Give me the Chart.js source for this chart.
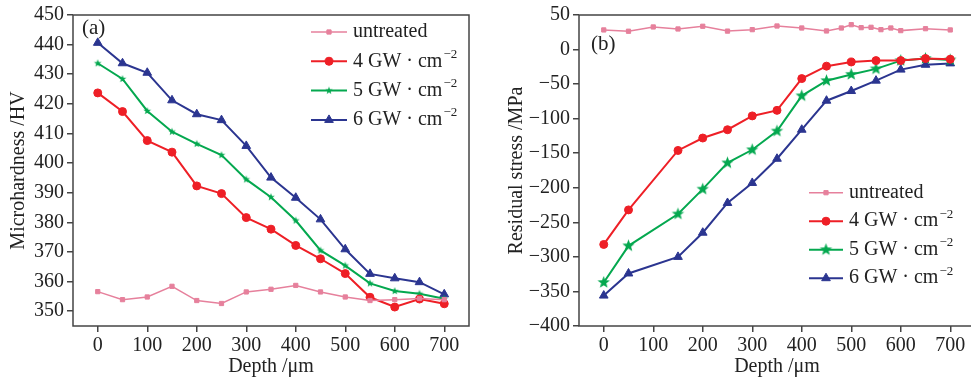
<!DOCTYPE html>
<html>
<head>
<meta charset="utf-8">
<script src="https://cdn.jsdelivr.net/npm/chart.js@4.4.1/dist/chart.umd.min.js"></script>
<style>
  body { margin: 0; background: #fff; overflow: hidden; width: 971px; height: 383px; position: relative; }
  #hardness { position: absolute; left: 0; top: 0; }
  #stress { position: absolute; left: 490px; top: 0; }
</style>
</head>
<body>
<canvas id="hardness" width="485" height="383"></canvas>
<canvas id="stress" width="500" height="383"></canvas>
<script>
// --- data ---
const seriesNames = ['untreated', '4 GW · cm⁻²', '5 GW · cm⁻²', '6 GW · cm⁻²'];
const depthTicks = [0, 100, 200, 300, 400, 500, 600, 700];

// (a) microhardness
const depthHV = [0, 50, 100, 150, 200, 250, 300, 350, 400, 450, 500, 550, 600, 650, 700];
const hvUntreated = [356.6, 353.9, 354.8, 358.4, 353.6, 352.6, 356.5, 357.4, 358.7, 356.5, 354.8, 353.6, 353.9, 354.3, 353.9];
const hv4GW = [423.7, 417.4, 407.6, 403.7, 392.3, 389.7, 381.6, 377.7, 372.2, 367.7, 362.7, 354.7, 351.4, 354.1, 352.5];
const hv5GW = [433.7, 428.4, 417.6, 410.6, 406.5, 402.7, 394.5, 388.5, 380.6, 370.5, 365.4, 359.4, 356.8, 355.9, 354.2];
const hv6GW = [440.6, 433.7, 430.5, 421.2, 416.5, 414.5, 405.8, 395.1, 388.3, 381.0, 370.9, 362.6, 361.1, 359.8, 355.7];
const hvTicks = [350, 360, 370, 380, 390, 400, 410, 420, 430, 440, 450];

// (b) residual stress
const depthUntreated = [0, 50, 100, 150, 200, 250, 300, 350, 400, 450, 480, 500, 520, 540, 560, 580, 600, 650, 700];
const stressUntreated = [28.4, 26.5, 32.7, 29.8, 33.7, 26.7, 28.8, 34.1, 31.2, 26.9, 31.2, 36, 31.7, 32.2, 28.8, 31.2, 27.4, 30.2, 28.4];
const depthStress = [0, 50, 150, 200, 250, 300, 350, 400, 450, 500, 550, 600, 650, 700];
const stress4GW = [-282, -232, -146, -128, -116, -96, -88, -42, -24, -18, -16, -16, -13, -14];
const stress5GW = [-337, -284, -238, -202, -164, -145, -118, -67, -45, -36, -28, -16, -13, -15];
const stress6GW = [-356, -324, -300, -265, -222, -193, -158, -116, -74, -60, -45, -29, -22, -20];
const stressTicks = [-400, -350, -300, -250, -200, -150, -100, -50, 0, 50];

const colors = ['#e6809c', '#ee1f26', '#04a84f', '#2b3590'];
const FONT = "'Liberation Serif', 'DejaVu Serif', serif";
const INK = '#222';
const AXIS = '#444';

function starImage(r, color) {
  const s = Math.ceil(r * 2 + 2);
  const c = document.createElement('canvas');
  c.width = c.height = s;
  const g = c.getContext('2d');
  g.fillStyle = color;
  g.beginPath();
  for (let i = 0; i < 10; i++) {
    const a = -Math.PI / 2 + i * Math.PI / 5;
    const rr = i % 2 ? r * 0.42 : r;
    g.lineTo(s / 2 + rr * Math.cos(a), s / 2 + rr * Math.sin(a));
  }
  g.closePath();
  g.fill();
  return c;
}

const pts = (xs, ys) => xs.map((x, i) => ({ x: x, y: ys[i] }));

function makeSet(i, xs, ys, style, radius, width) {
  return {
    label: seriesNames[i],
    data: pts(xs, ys),
    borderColor: colors[i],
    backgroundColor: colors[i],
    pointBackgroundColor: colors[i],
    pointBorderColor: colors[i],
    borderWidth: width,
    pointStyle: style,
    pointRadius: radius,
    pointBorderWidth: 1,
    tension: 0
  };
}

// box around plot area + panel tag
const frame = {
  id: 'frame',
  afterDraw(chart, args, opts) {
    const { ctx, chartArea: a } = chart;
    ctx.save();
    ctx.strokeStyle = AXIS;
    ctx.lineWidth = 1.5;
    ctx.strokeRect(a.left, a.top, a.right - a.left, a.bottom - a.top);
    ctx.fillStyle = INK;
    ctx.font = '21px ' + FONT;
    ctx.textBaseline = 'middle';
    ctx.fillText(opts.tag, opts.tagX, opts.tagY);
    ctx.restore();
  }
};

// legend drawn as line + marker, like the original
const lineLegend = {
  id: 'lineLegend',
  afterDraw(chart, args, opts) {
    const ctx = chart.ctx;
    chart.data.datasets.forEach((ds, i) => {
      const y = opts.y + i * opts.dy;
      ctx.save();
      ctx.strokeStyle = ds.borderColor;
      ctx.fillStyle = ds.borderColor;
      ctx.lineWidth = ds.borderWidth;
      ctx.beginPath();
      ctx.moveTo(opts.x, y);
      ctx.lineTo(opts.x + opts.len, y);
      ctx.stroke();
      ctx.lineWidth = 1;
      Chart.helpers.drawPoint(ctx, { pointStyle: ds.pointStyle, radius: ds.pointRadius, borderWidth: 1, rotation: 0 }, opts.x + opts.len / 2, y);
      ctx.fillStyle = INK;
      ctx.textBaseline = 'middle';
      ctx.font = '20px ' + FONT;
      let text = ds.label;
      let sup = '';
      if (text.endsWith('⁻²')) { text = text.slice(0, -2); sup = '−2'; }
      const tx = opts.x + opts.len + 6;
      ctx.fillText(text, tx, y);
      if (sup) {
        const w = ctx.measureText(text).width;
        ctx.font = '13px ' + FONT;
        ctx.fillText(sup, tx + w + 1, y - 7);
      }
      ctx.restore();
    });
  }
};

function axes(xTitle, yTitle, yMin, yMax, yTicks, yWidth, yPad) {
  const tickFont = { family: FONT, size: 20 };
  const titleFont = { family: FONT, size: 20 };
  const grid = { drawOnChartArea: false, drawTicks: true, tickLength: 6, color: AXIS, lineWidth: 1.5 };
  const fmt = v => String(v).replace('-', '−');
  return {
    x: {
      type: 'linear', min: -50, max: 750,
      afterBuildTicks: s => { s.ticks = depthTicks.map(v => ({ value: v })); },
      afterFit: s => { s.height = 57; },
      grid: grid, border: { display: false },
      ticks: { font: tickFont, color: INK, padding: 2, autoSkip: false, maxRotation: 0, callback: fmt },
      title: { display: true, text: xTitle, font: titleFont, color: INK, padding: { top: 0, bottom: 4 } }
    },
    y: {
      type: 'linear', min: yMin, max: yMax,
      afterBuildTicks: s => { s.ticks = yTicks.map(v => ({ value: v })); },
      afterFit: s => { s.width = yWidth; },
      grid: grid, border: { display: false },
      ticks: { font: tickFont, color: INK, padding: 3, autoSkip: false, callback: fmt },
      title: { display: true, text: yTitle, font: titleFont, color: INK, padding: { top: yPad, bottom: 0 } }
    }
  };
}

new Chart(document.getElementById('hardness'), {
  type: 'line',
  data: {
    datasets: [
      makeSet(0, depthHV, hvUntreated, 'rect', 3, 1.5),
      makeSet(1, depthHV, hv4GW, 'circle', 4, 2),
      makeSet(2, depthHV, hv5GW, starImage(4, colors[2]), 4, 2),
      makeSet(3, depthHV, hv6GW, 'triangle', 5, 2)
    ]
  },
  options: {
    responsive: false,
    animation: false,
    layout: { padding: { left: 0, right: 16, top: 13, bottom: 0 } },
    scales: axes('Depth /μm', 'Microhardness /HV', 345, 450, hvTicks, 73, 7),
    plugins: {
      legend: { display: false },
      tooltip: { enabled: false },
      frame: { tag: '(a)', tagX: 82, tagY: 28 },
      lineLegend: { x: 311, y: 32, dy: 29.3, len: 36 }
    }
  },
  plugins: [frame, lineLegend]
});

new Chart(document.getElementById('stress'), {
  type: 'line',
  data: {
    datasets: [
      makeSet(0, depthUntreated, stressUntreated, 'rect', 3, 1.5),
      makeSet(1, depthStress, stress4GW, 'circle', 4, 2),
      makeSet(2, depthStress, stress5GW, starImage(6.5, colors[2]), 6, 2),
      makeSet(3, depthStress, stress6GW, 'triangle', 5, 2)
    ]
  },
  options: {
    responsive: false,
    animation: false,
    layout: { padding: { left: 0, right: 15, top: 13, bottom: 0 } },
    scales: axes('Depth /μm', 'Residual stress /MPa', -400, 50, stressTicks, 89, 15),
    plugins: {
      legend: { display: false },
      tooltip: { enabled: false },
      frame: { tag: '(b)', tagX: 101, tagY: 44 },
      lineLegend: { x: 319, y: 192.7, dy: 28.5, len: 34 }
    }
  },
  plugins: [frame, lineLegend]
});
</script>
</body>
</html>
